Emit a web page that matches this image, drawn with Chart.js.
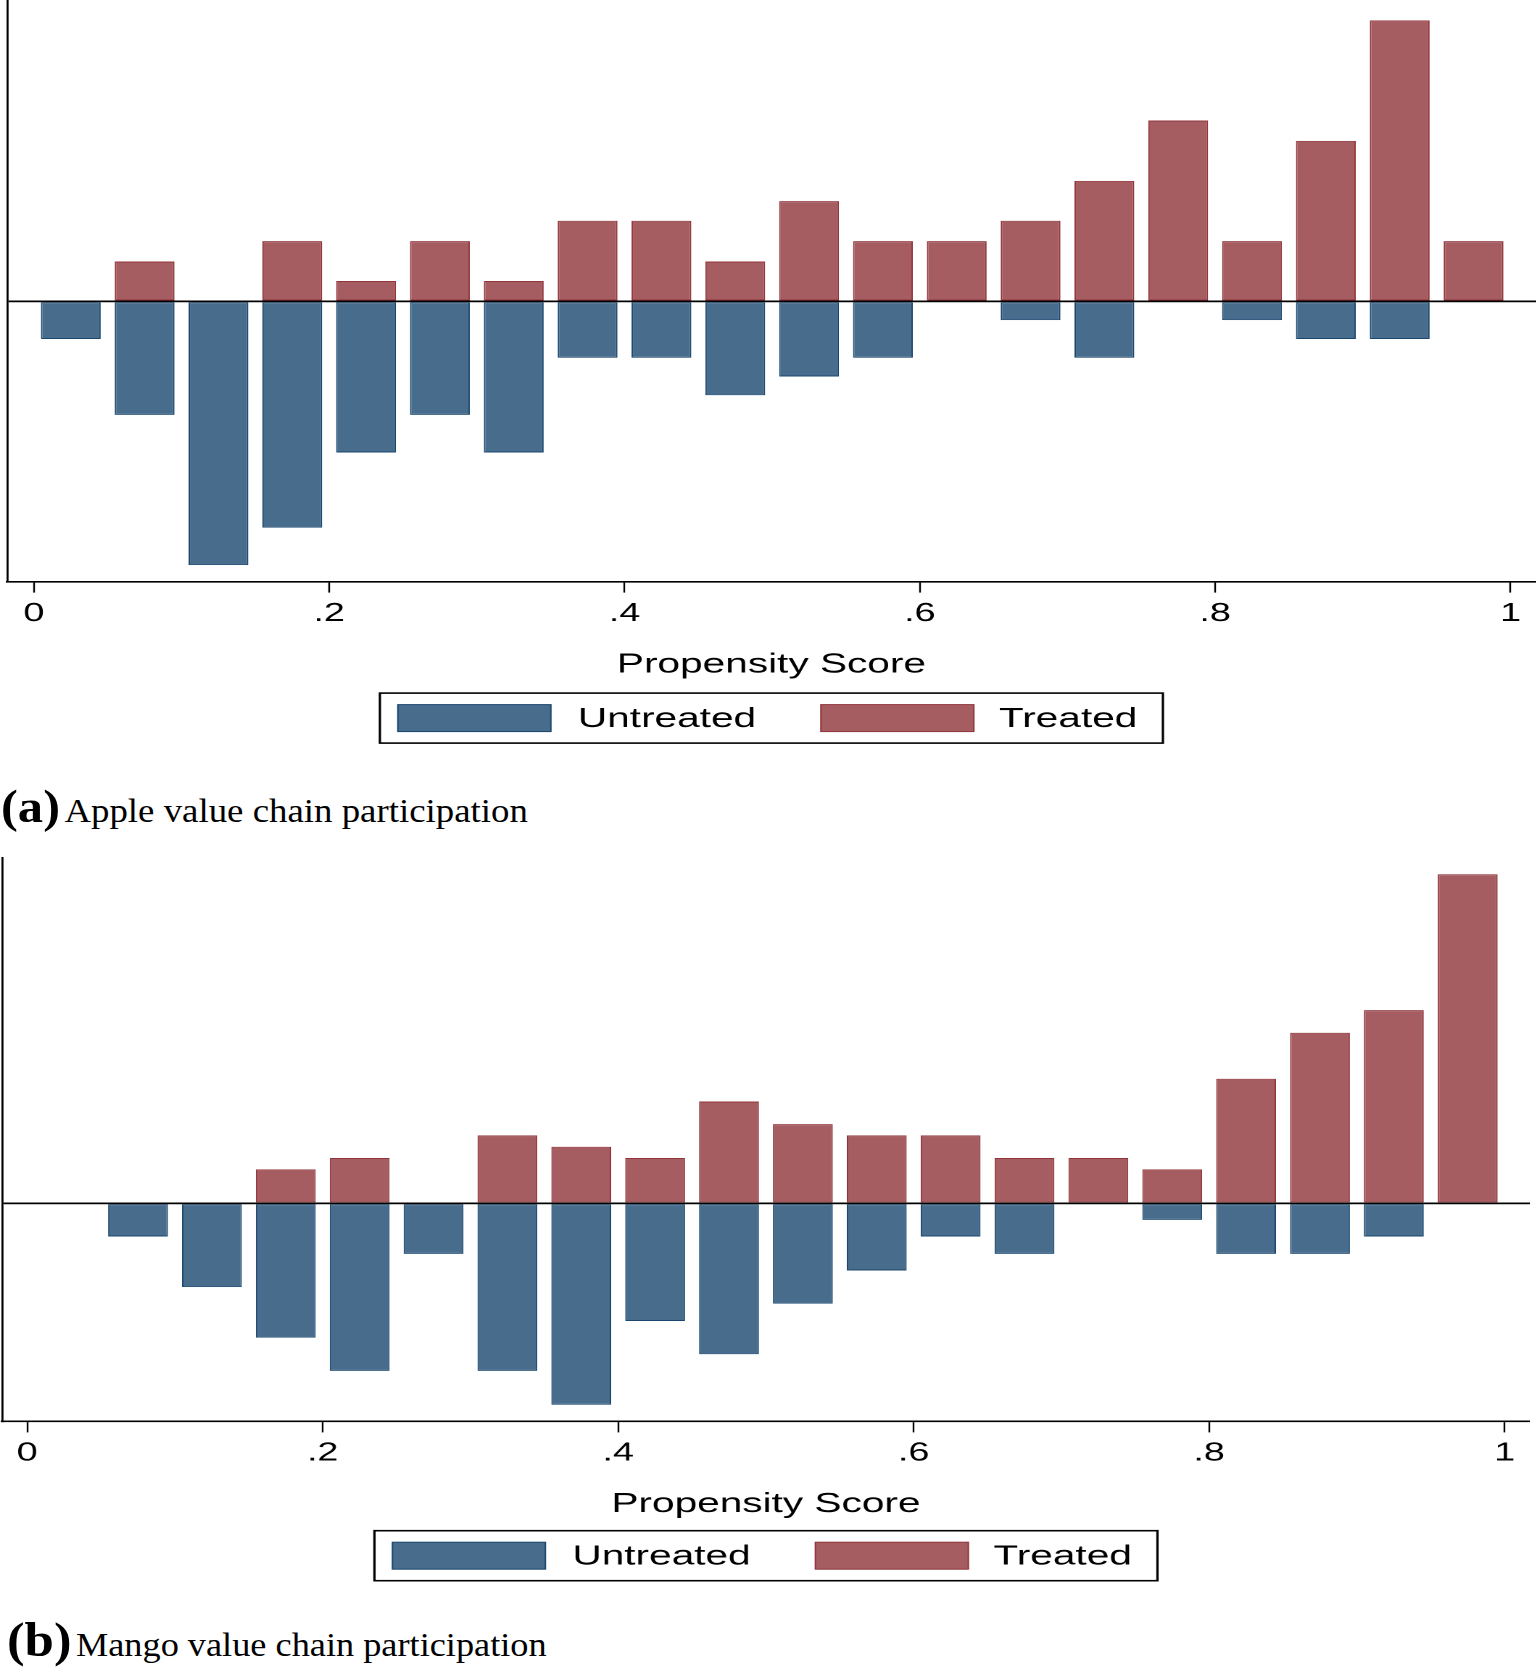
<!DOCTYPE html>
<html>
<head>
<meta charset="utf-8">
<title>Propensity score distribution</title>
<script src="https://cdn.jsdelivr.net/npm/chart.js@4.4.1/dist/chart.umd.min.js"></script>
<style>
    html, body { margin: 0; padding: 0; background: #fff; }
    body { width: 1536px; height: 1670px; position: relative; overflow: hidden; }
    /* the source figure is stretched horizontally, so draw narrow and widen */
    .stretch { position: absolute; left: 0; transform: scaleX(1.45); transform-origin: 0 0; }
    #panelA { top: 0; width: 1059px; height: 750px; }
    #panelB { top: 850px; width: 1055px; height: 740px; }
    .caption {
        position: absolute; left: 0; white-space: nowrap; line-height: 1;
        font-family: "Liberation Serif", "Times New Roman", serif; color: #000;
        transform: scaleX(1.1); transform-origin: 0 0;
    }
    .caption b { font-size: 46px; }
    .caption span { font-size: 33.5px; }
</style>
</head>
<body>
<div class="stretch" id="panelA"><canvas id="chartA"></canvas></div>
<div class="caption" style="top:784px;left:1px"><b>(a)</b> <span>Apple value chain participation</span></div>
<div class="stretch" id="panelB"><canvas id="chartB"></canvas></div>
<div class="caption" style="top:1616px;left:7px"><b style="font-size:48px">(b)</b> <span style="font-size:33px">Mango value chain participation</span></div>

<script>
// Bin centres (propensity score bins of width .05)
const binCenters = [0.025, 0.075, 0.125, 0.175, 0.225, 0.275, 0.325, 0.375, 0.425, 0.475,
                    0.525, 0.575, 0.625, 0.675, 0.725, 0.775, 0.825, 0.875, 0.925, 0.975];

// Axis ticks
const tickVals = [0, 0.2, 0.4, 0.6, 0.8, 1];
const tickText = ['0', '.2', '.4', '.6', '.8', '1'];

// (a) Apple - densities (untreated plotted below zero)
const appleUntreated = [-0.48, -1.45, -3.37, -2.89, -1.93, -1.45, -1.93, -0.72, -0.72, -1.20,
                        -0.96, -0.72, 0, -0.24, -0.72, 0, -0.24, -0.48, -0.48, 0];
const appleTreated = [0, 0.51, 0, 0.77, 0.26, 0.77, 0.26, 1.03, 1.03, 0.51,
                      1.28, 0.77, 0.77, 1.03, 1.54, 2.31, 0.77, 2.05, 3.59, 0.77];

// (b) Mango
const mangoUntreated = [0, -0.44, -1.11, -1.78, -2.22, -0.67, -2.22, -2.67, -1.56, -2.00,
                        -1.33, -0.89, -0.44, -0.67, 0, -0.22, -0.67, -0.67, -0.44, 0];
const mangoTreated = [0, 0, 0, 0.45, 0.60, 0, 0.90, 0.75, 0.60, 1.35,
                      1.05, 0.90, 0.90, 0.60, 0.60, 0.45, 1.65, 2.26, 2.56, 4.36];

// Axis ranges
const xRangeA = [-0.018, 1.017];
const yRangeA = [-3.58, 3.85];
const xRangeB = [-0.017, 1.017];
const yRangeB = [-2.89, 4.58];

const FONT = "'Liberation Sans', Arial, Helvetica, sans-serif";
const NAVY = '#1a476f', NAVY_FILL = '#486c8c';
const MAROON = '#90353b', MAROON_FILL = '#a65d62';

// Stata-style framed legend drawn under the axis title
const framedLegend = {
    id: 'framedLegend',
    afterDraw(chart, args, opts) {
        const { ctx, chartArea } = chart;
        const cx = (chartArea.left + chartArea.right) / 2;
        const top = chartArea.bottom + opts.offsetY;
        ctx.save();
        ctx.strokeStyle = '#000';
        ctx.lineWidth = 1.6;
        ctx.strokeRect(cx - opts.halfWidth, top, opts.halfWidth * 2, opts.height);
        ctx.font = `${opts.fontSize}px ${FONT}`;
        ctx.textBaseline = 'middle';
        ctx.textAlign = 'left';
        chart.data.datasets.forEach((ds, i) => {
            const bx = cx + opts.boxX[i];
            ctx.fillStyle = ds.backgroundColor;
            ctx.fillRect(bx, top + opts.boxTop, opts.boxW, opts.boxH);
            ctx.strokeStyle = ds.borderColor;
            ctx.lineWidth = 1;
            ctx.strokeRect(bx, top + opts.boxTop, opts.boxW, opts.boxH);
            ctx.fillStyle = '#000';
            ctx.fillText(ds.label, cx + opts.textX[i], top + opts.height / 2 + 1);
        });
        ctx.restore();
    }
};

function toPoints(values) {
    return binCenters.map((x, i) => ({ x: x, y: values[i] === 0 ? null : values[i] }));
}

function makeChart(id, untreated, treated, xRange, yRange, padding, legendOffset) {
    const ctx = document.getElementById(id).getContext('2d');
    return new Chart(ctx, {
        type: 'bar',
        data: {
            datasets: [
                {
                    label: 'Untreated',
                    data: toPoints(untreated),
                    backgroundColor: NAVY_FILL,
                    borderColor: NAVY,
                    borderWidth: 1,
                    borderSkipped: false,
                    grouped: false,
                    barPercentage: 0.81,
                    categoryPercentage: 1
                },
                {
                    label: 'Treated',
                    data: toPoints(treated),
                    backgroundColor: MAROON_FILL,
                    borderColor: MAROON,
                    borderWidth: 1,
                    borderSkipped: false,
                    grouped: false,
                    barPercentage: 0.81,
                    categoryPercentage: 1
                }
            ]
        },
        options: {
            responsive: true,
            maintainAspectRatio: false,
            animation: false,
            devicePixelRatio: 2,
            layout: { padding: padding },
            scales: {
                x: {
                    type: 'linear',
                    offset: false,
                    min: xRange[0],
                    max: xRange[1],
                    afterBuildTicks: (scale) => {
                        scale.ticks = tickVals.map(v => ({ value: v }));
                    },
                    ticks: {
                        callback: (value, index) => tickText[index],
                        font: { family: FONT, size: 26 },
                        color: '#000',
                        padding: 5.4,
                        maxRotation: 0,
                        autoSkip: false
                    },
                    grid: {
                        offset: false,
                        drawOnChartArea: false,
                        drawTicks: true,
                        tickLength: 11,
                        tickColor: '#000',
                        tickWidth: 1.2
                    },
                    border: { display: true, color: '#000', width: 1.6 },
                    title: {
                        display: true,
                        text: 'Propensity Score',
                        font: { family: FONT, size: 28 },
                        color: '#000',
                        padding: { top: 13.2, bottom: 0 }
                    }
                },
                y: {
                    min: yRange[0],
                    max: yRange[1],
                    afterBuildTicks: (scale) => {
                        scale.ticks = [{ value: yRange[0] }, { value: 0 }, { value: yRange[1] }];
                    },
                    ticks: { display: false },
                    grid: {
                        drawTicks: false,
                        lineWidth: 1.8,
                        color: (c) => (c.tick && c.tick.value === 0) ? '#000' : 'rgba(0,0,0,0)'
                    },
                    border: { display: true, color: '#000', width: 1.4 }
                }
            },
            plugins: {
                legend: { display: false },
                tooltip: { enabled: false },
                framedLegend: {
                    offsetY: legendOffset,
                    halfWidth: 270,
                    height: 50,
                    boxTop: 11.5,
                    boxW: 105.5,
                    boxH: 27,
                    boxX: [-257.6, 34.1],
                    textX: [-133.5, 156.9],
                    fontSize: 28
                }
            }
        },
        plugins: [framedLegend]
    });
}

makeChart('chartA', appleUntreated, appleTreated, xRangeA, yRangeA,
    { left: 5.03, right: 0, top: 0, bottom: 68.6 }, 111.5);
makeChart('chartB', mangoUntreated, mangoTreated, xRangeB, yRangeB,
    { left: 1.45, right: 0, top: 7.7, bottom: 68.8 }, 109.3);
</script>
</body>
</html>
